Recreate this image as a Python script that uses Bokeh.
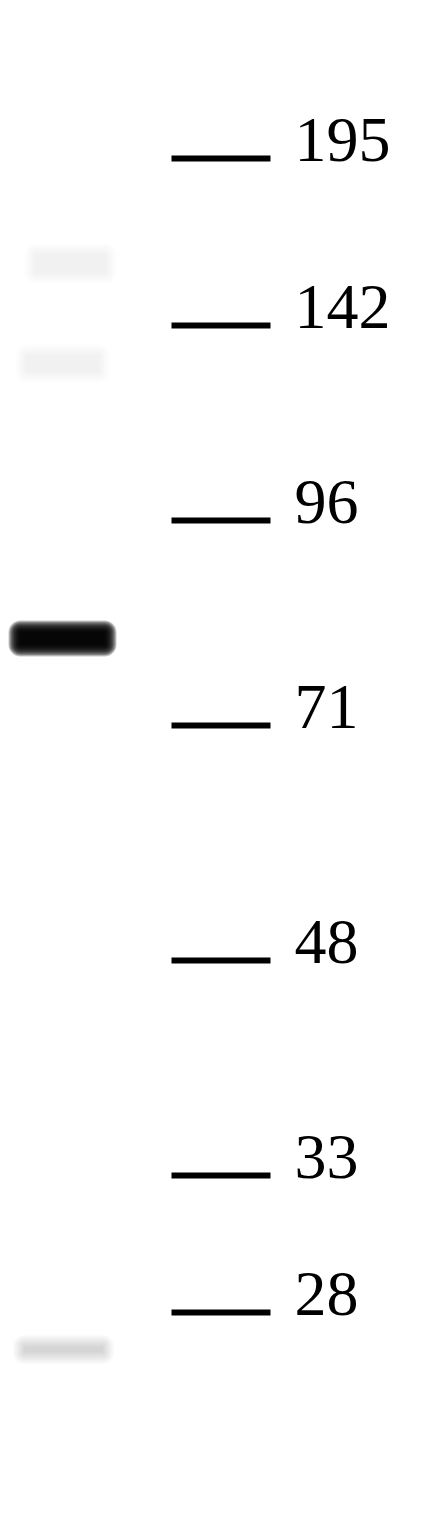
from bokeh.embed import file_html
from bokeh.resources import INLINE
from bokeh.plotting import figure
from bokeh.models import Range1d, ColumnDataSource
from bokeh.core.properties import value

# marker ladder (kDa) and where each marker ran on the blot (px from top)
marker_kda = ["195", "142", "96", "71", "48", "33", "28"]
marker_pos = [158, 325, 520, 725, 960, 1175, 1312]

# sample lane bands: center x, center y, width, height, darkness 0..1
band_x = [62, 70, 62, 61, 63]
band_y = [638, 263, 363, 675, 1349]
band_w = [84, 70, 72, 86, 78]
band_h = [12, 18, 16, 30, 6]
band_dark = [1.0, 0.05, 0.03, 0.02, 0.14]

p = figure(width=432, height=1504, output_backend="svg", toolbar_location=None,
           x_range=Range1d(0, 432), y_range=Range1d(1504, 0),
           min_border=0, background_fill_color="white", border_fill_color="white")
p.axis.visible = False
p.grid.visible = False
p.outline_line_color = None

# blurred bands: stack translucent rects that grow outward
layers = 14
spread = 12
for bx, by, bw, bh, d in zip(band_x, band_y, band_w, band_h, band_dark):
    a = 1 - (1 - 0.97 * d) ** (1.0 / layers)
    for k in range(layers):
        e = spread * (1 - k / (layers - 1))
        p.rect(x=[bx], y=[by], width=[bw + 2 * e], height=[bh + 2 * e],
               fill_color="black", fill_alpha=a, line_color=None,
               border_radius=int(round(e)))

src = ColumnDataSource(dict(
    x0=[171] * len(marker_pos), x1=[270] * len(marker_pos),
    y=marker_pos, ty=[v - 19 for v in marker_pos],
    tx=[294] * len(marker_pos), label=marker_kda))
p.segment(x0="x0", y0="y", x1="x1", y1="y", source=src,
          line_color="black", line_width=6)
p.text(x="tx", y="ty", text="label", source=src,
       text_font=value("Liberation Serif"), text_font_size="64px",
       text_color="black", text_baseline="alphabetic", text_align="left")

open("out.html", "w").write(file_html(p, INLINE))
